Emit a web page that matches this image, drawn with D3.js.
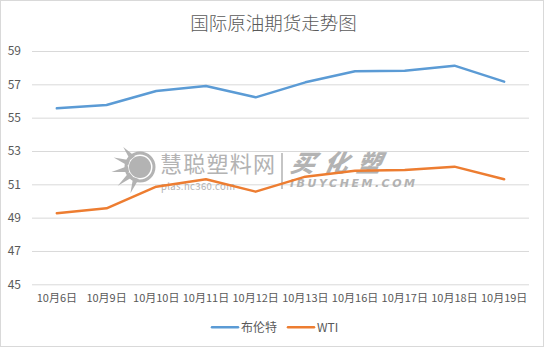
<!DOCTYPE html>
<html>
<head>
<meta charset="utf-8">
<script src="https://cdn.jsdelivr.net/npm/d3@7"></script>
<style>
  html, body { margin: 0; padding: 0; background: #fff; }
  svg { display: block; }
</style>
</head>
<body>
<svg id="chart" width="544" height="347"></svg>
<script>
// Trading days and settlement prices (USD/barrel)
const dates = ["10月6日","10月9日","10月10日","10月11日","10月12日","10月13日","10月16日","10月17日","10月18日","10月19日"];
const brent = [55.56, 55.76, 56.60, 56.90, 56.22, 57.12, 57.78, 57.82, 58.12, 57.16];
const wti   = [49.26, 49.56, 50.86, 51.30, 50.56, 51.46, 51.82, 51.86, 52.06, 51.30];
const yTicks = [45, 47, 49, 51, 53, 55, 57, 59];
const seriesNames = ["布伦特", "WTI"];
const seriesColors = ["#5b9bd5", "#ed7d31"];

const W = 544, H = 347;
const svg = d3.select("#chart");
const font = "'Noto Sans CJK SC', 'Noto Sans', sans-serif";

// outer frame
svg.append("rect").attr("x", 0.5).attr("y", 0.5).attr("width", W - 1).attr("height", H - 1)
  .attr("fill", "#fff").attr("stroke", "#d9d9d9");

const plot = { left: 32, right: 529, top: 51, bottom: 284.3 };

const x = d3.scaleBand().domain(dates).range([plot.left, plot.right]);
const y = d3.scaleLinear().domain([45, 59]).range([plot.bottom, plot.top]);

// title
svg.append("text").attr("x", 273.5).attr("y", 30).attr("text-anchor", "middle")
  .attr("font-family", font).attr("font-weight", 300).attr("font-size", 18.5)
  .attr("fill", "#595959").text("国际原油期货走势图");

// horizontal gridlines
const yAxis = d3.axisLeft(y).tickValues(yTicks).tickSize(-(plot.right - plot.left)).tickPadding(11).tickFormat(d3.format("d"));
const gy = svg.append("g").attr("transform", `translate(${plot.left},0)`).call(yAxis);
gy.select(".domain").remove();
gy.selectAll(".tick line").attr("stroke", "#d9d9d9").attr("stroke-width", 1);
gy.selectAll(".tick text").attr("font-family", font).attr("font-size", 12).attr("fill", "#595959");

// category labels
const xAxis = d3.axisBottom(x).tickSize(0).tickPadding(10);
const gx = svg.append("g").attr("transform", `translate(0,${plot.bottom})`).call(xAxis);
gx.select(".domain").remove();
gx.selectAll(".tick text").attr("font-family", font).attr("font-size", 11).attr("fill", "#595959");

// background watermark
const wm = svg.append("g").attr("fill", "#a6a6a6").attr("opacity", 0.85);
wm.append("circle").attr("cx", 140).attr("cy", 167).attr("r", 11);
[[-70, 18], [-40, 19], [-10, 19], [20, 18], [50, 16]].forEach(([a, r]) => {
  const t = a * Math.PI / 180;
  wm.append("path")
    .attr("d", `M${140 + 12 * Math.cos(Math.PI - t - 0.25)},${167 - 12 * Math.sin(Math.PI - t - 0.25)}
                L${140 + (r + 10) * Math.cos(Math.PI - t)},${167 - (r + 10) * Math.sin(Math.PI - t)}
                L${140 + 12 * Math.cos(Math.PI - t + 0.25)},${167 - 12 * Math.sin(Math.PI - t + 0.25)}Z`);
});
wm.append("circle").attr("cx", 140).attr("cy", 167).attr("r", 14).attr("fill", "none")
  .attr("stroke", "#a6a6a6").attr("stroke-width", 3);
wm.append("text").attr("x", 160).attr("y", 172).attr("font-family", font).attr("font-size", 22)
  .attr("textLength", 115).text("慧聪塑料网");
wm.append("text").attr("x", 161).attr("y", 190).attr("font-family", font).attr("font-size", 9.5)
  .attr("textLength", 74).text("plas.hc360.com");
wm.append("line").attr("x1", 282).attr("x2", 282).attr("y1", 153).attr("y2", 189)
  .attr("stroke", "#a6a6a6").attr("stroke-width", 1.5);
wm.append("text").attr("x", 290).attr("y", 172).attr("font-family", font).attr("font-size", 24)
  .attr("font-weight", 900).attr("font-style", "italic").attr("textLength", 90)
  .attr("transform", "skewX(-12) translate(36,0)").text("买化塑");
wm.append("text").attr("x", 290).attr("y", 187).attr("font-family", "'DejaVu Sans', sans-serif").attr("font-size", 11)
  .attr("font-weight", 700).attr("font-style", "italic").attr("textLength", 125).text("IBUYCHEM.COM");

// series lines
const line = d3.line().x((d, i) => x(dates[i]) + x.bandwidth() / 2).y(d => y(d));
[brent, wti].forEach((vals, k) => {
  svg.append("path").datum(vals).attr("d", line).attr("fill", "none")
    .attr("stroke", seriesColors[k]).attr("stroke-width", 2.5)
    .attr("stroke-linejoin", "round").attr("stroke-linecap", "round");
});

// legend
const legendItems = [{ x: 212, w: 26, tx: 241 }, { x: 288, w: 26, tx: 317 }];
seriesNames.forEach((name, k) => {
  const it = legendItems[k];
  svg.append("line").attr("x1", it.x).attr("x2", it.x + it.w).attr("y1", 327.3).attr("y2", 327.3)
    .attr("stroke", seriesColors[k]).attr("stroke-width", 2.5).attr("stroke-linecap", "round");
  svg.append("text").attr("x", it.tx).attr("y", 327.3).attr("dy", "0.35em")
    .attr("font-family", font).attr("font-size", 12).attr("fill", "#595959").text(name);
});
</script>
</body>
</html>
